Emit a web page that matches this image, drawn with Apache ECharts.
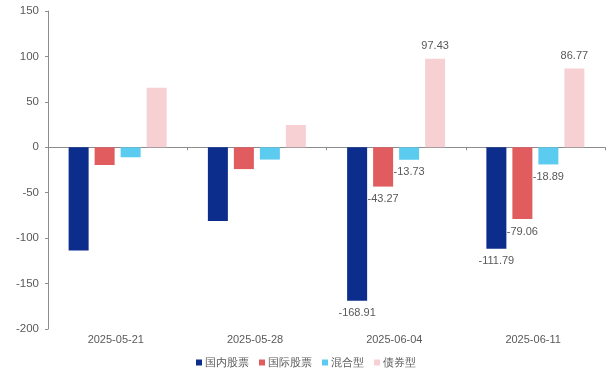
<!DOCTYPE html>
<html><head><meta charset="utf-8">
<script src="https://cdn.jsdelivr.net/npm/echarts@6/dist/echarts.min.js"></script>
<style>html,body{margin:0;padding:0;background:#fff}#c{width:612px;height:375px}</style>
</head><body><div id="c"></div>
<script>
const categories = ['2025-05-21','2025-05-28','2025-06-04','2025-06-11'];
const seriesNames = ['国内股票','国际股票','混合型','债券型'];
const domestic = [-113.5, -81.0, -168.91, -111.79];
const international = [-19.5, -24.0, -43.27, -79.06];
const mixed = [-11.0, -13.5, -13.73, -18.89];
const bond = [65.5, 24.5, 97.43, 86.77];
const labelShown = [false, false, true, true];

const colors = ['#0c2d8c', '#e05c5e', '#5ccbf0', '#f6d0d3'];
const allData = [domestic, international, mixed, bond];

function makeData(arr) {
  return arr.map((v, i) => ({
    value: v,
    label: {
      show: labelShown[i],
      position: v < 0 ? 'bottom' : 'top',
      distance: 7,
      color: '#595959',
      fontSize: 11,
      fontFamily: 'Liberation Sans, Arial, sans-serif',
      formatter: p => p.value.toFixed(2)
    }
  }));
}

const chart = echarts.init(document.getElementById('c'));
chart.setOption({
  animation: false,
  color: colors,
  textStyle: { fontFamily: 'Liberation Sans, Arial, sans-serif' },
  grid: { left: 48, right: 7, top: 11, bottom: 46, containLabel: false },
  legend: {
    bottom: 2,
    left: 'center',
    itemWidth: 6, itemHeight: 6, itemGap: 10,
    icon: 'rect',
    textStyle: { color: '#595959', fontSize: 11, padding: [0,0,0,-2] },
    data: seriesNames
  },
  xAxis: {
    type: 'category',
    data: categories,
    axisLine: { onZero: true, lineStyle: { color: '#8c8c8c', width: 1 } },
    axisTick: { show: true, length: 3, lineStyle: { color: '#8c8c8c' } },
    axisLabel: { show: false }
  },
  yAxis: {
    type: 'value',
    min: -200, max: 150, interval: 50,
    axisLine: { show: true, lineStyle: { color: '#8c8c8c' } },
    axisTick: { show: true, length: 3, lineStyle: { color: '#8c8c8c' } },
    splitLine: { show: false },
    axisLabel: { color: '#595959', fontSize: 11.5, margin: 9 }
  },
  series: seriesNames.map((n, k) => ({
    name: n,
    type: 'bar',
    barWidth: 20,
    barGap: '30%',
    data: makeData(allData[k])
  }))
});
// category labels drawn below the plot area, positioned via the axis scale
chart.setOption({
  graphic: categories.map((c) => {
    const px = chart.convertToPixel({ xAxisIndex: 0 }, c);
    const py = chart.convertToPixel({ yAxisIndex: 0 }, -200);
    return { type: 'text', left: px - 30, top: py + 5,
      style: { text: c, fill: '#595959', fontSize: 11,
        fontFamily: 'Liberation Sans, Arial, sans-serif' } };
  })
});
</script></body></html>
